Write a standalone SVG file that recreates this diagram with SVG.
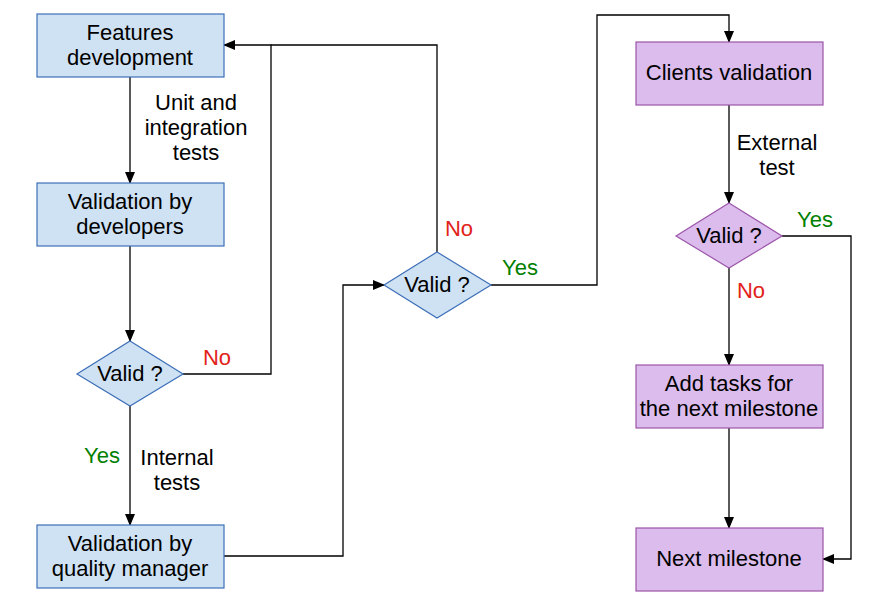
<svg xmlns="http://www.w3.org/2000/svg" width="872" height="600" viewBox="0 0 872 600">
<style>
text{font-family:"Liberation Sans",Arial,sans-serif;font-size:22px;fill:#000;text-anchor:middle}
.b{fill:#cfe2f3;stroke:#3c6fb8;stroke-width:1.2}
.p{fill:#dbbcec;stroke:#9b55a9;stroke-width:1.2}
.c{fill:none;stroke:#000;stroke-width:1.3}
.y{fill:#008000}
.n{fill:#e2231a}
</style>
<defs>
<marker id="a" markerWidth="12" markerHeight="10" refX="11" refY="5" orient="auto" markerUnits="userSpaceOnUse">
<path d="M0,0 L12,5 L0,10 Z" fill="#000"/>
</marker>
</defs>
<rect width="872" height="600" fill="#fff"/>
<g id="connectors">
<path class="c" d="M130,77 V183" marker-end="url(#a)"/>
<path class="c" d="M130,246 V341" marker-end="url(#a)"/>
<path class="c" d="M130,406 V525" marker-end="url(#a)"/>
<path class="c" d="M183,374 H271 V45 H224" marker-end="url(#a)"/>
<path class="c" d="M437,252 V45 H271"/>
<path class="c" d="M224,556 H343 V285 H384" marker-end="url(#a)"/>
<path class="c" d="M491,285 H597 V15 H729 V42" marker-end="url(#a)"/>
<path class="c" d="M729,105 V203" marker-end="url(#a)"/>
<path class="c" d="M729,268 V365" marker-end="url(#a)"/>
<path class="c" d="M729,428 V528" marker-end="url(#a)"/>
<path class="c" d="M782,236 H851 V559 H823" marker-end="url(#a)"/>
<text x="196" y="110">Unit and</text>
<text x="196" y="135">integration</text>
<text x="196" y="160">tests</text>
<text x="177" y="465">Internal</text>
<text x="177" y="490">tests</text>
<text x="102" y="463" class="y">Yes</text>
<text x="217" y="365" class="n">No</text>
<text x="459" y="236" class="n">No</text>
<text x="520" y="275" class="y">Yes</text>
<text x="777" y="150">External</text>
<text x="777" y="175">test</text>
<text x="815" y="227" class="y">Yes</text>
<text x="751" y="298" class="n">No</text>
</g>
<g id="features">
<rect class="b" x="37" y="14" width="187" height="63"/>
<text x="130" y="40">Features</text>
<text x="130" y="65">development</text>
</g>
<g id="devval">
<rect class="b" x="37" y="183" width="187" height="63"/>
<text x="130" y="209">Validation by</text>
<text x="130" y="234">developers</text>
</g>
<g id="valid1">
<path class="b" d="M130,341 L183,374 L130,406 L77,374 Z"/>
<text x="130" y="381">Valid ?</text>
</g>
<g id="qmval">
<rect class="b" x="37" y="525" width="187" height="63"/>
<text x="130" y="551">Validation by</text>
<text x="130" y="576">quality manager</text>
</g>
<g id="valid2">
<path class="b" d="M437,252 L491,285 L437,318 L384,285 Z"/>
<text x="437" y="292">Valid ?</text>
</g>
<g id="clients">
<rect class="p" x="636" y="42" width="187" height="63"/>
<text x="729" y="80">Clients validation</text>
</g>
<g id="valid3">
<path class="p" d="M729,203 L782,236 L729,268 L676,236 Z"/>
<text x="729" y="243">Valid ?</text>
</g>
<g id="addtasks">
<rect class="p" x="636" y="365" width="187" height="63"/>
<text x="729" y="391">Add tasks for</text>
<text x="729" y="416">the next milestone</text>
</g>
<g id="next">
<rect class="p" x="636" y="528" width="187" height="63"/>
<text x="729" y="566">Next milestone</text>
</g>
</svg>
